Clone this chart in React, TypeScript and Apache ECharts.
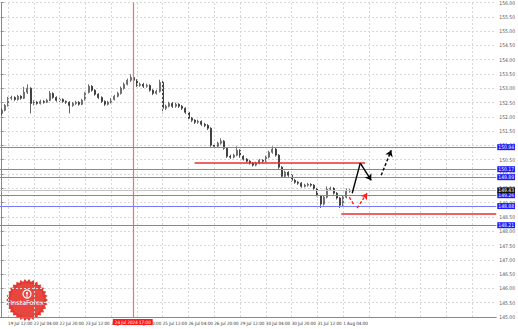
import React, { useEffect, useRef } from "react";
import * as echarts from "echarts";

// 2-hour candles: [open, close, low, high]
const candles: number[][] = [
  [152.12, 152.23, 152.05, 152.30], [152.23, 152.40, 152.19, 152.45], [152.40, 152.65, 152.36, 152.70],
  [152.65, 152.68, 152.58, 152.74], [152.68, 152.61, 152.55, 152.72], [152.61, 152.72, 152.57, 152.77],
  [152.72, 152.65, 152.60, 152.76], [152.65, 152.86, 152.62, 153.05], [152.86, 153.00, 152.80, 153.14],
  [153.00, 152.47, 152.12, 153.04], [152.47, 152.51, 152.40, 152.58], [152.51, 152.47, 152.42, 152.56],
  [152.47, 152.54, 152.43, 152.60], [152.54, 152.51, 152.46, 152.59], [152.51, 152.58, 152.48, 152.63],
  [152.58, 152.82, 152.55, 152.90], [152.82, 152.68, 152.63, 152.86], [152.68, 152.58, 152.53, 152.72],
  [152.58, 152.61, 152.52, 152.67], [152.61, 152.54, 152.49, 152.65], [152.54, 152.51, 152.45, 152.58],
  [152.51, 152.40, 152.12, 152.55], [152.40, 152.47, 152.35, 152.52], [152.47, 152.51, 152.42, 152.56],
  [152.51, 152.44, 152.39, 152.55], [152.44, 152.58, 152.41, 152.63], [152.58, 152.86, 152.55, 152.92],
  [152.86, 153.07, 152.82, 153.14], [153.07, 152.93, 152.88, 153.11], [152.93, 152.79, 152.74, 152.97],
  [152.79, 152.68, 152.62, 152.83], [152.68, 152.54, 152.49, 152.72], [152.54, 152.44, 152.38, 152.58],
  [152.44, 152.51, 152.40, 152.56], [152.51, 152.61, 152.47, 152.66], [152.61, 152.72, 152.57, 152.77],
  [152.72, 152.82, 152.68, 152.88], [152.82, 153.00, 152.78, 153.06], [153.00, 153.14, 152.95, 153.20],
  [153.14, 153.28, 153.10, 153.34], [153.28, 153.38, 153.22, 153.49], [153.38, 153.28, 153.22, 153.44],
  [153.28, 153.10, 153.04, 153.32], [153.10, 153.14, 153.05, 153.20], [153.14, 153.07, 153.01, 153.19],
  [153.07, 153.10, 153.02, 153.16], [153.10, 152.93, 152.88, 153.14], [152.93, 152.82, 152.76, 152.97],
  [152.82, 152.89, 152.78, 152.95], [152.89, 153.21, 152.85, 153.30], [153.21, 152.30, 152.12, 153.26],
  [152.30, 152.37, 152.24, 152.43], [152.37, 152.47, 152.33, 152.53], [152.47, 152.37, 152.31, 152.52],
  [152.37, 152.44, 152.32, 152.50], [152.44, 152.37, 152.31, 152.48], [152.37, 152.30, 152.24, 152.42],
  [152.30, 152.16, 152.10, 152.34], [152.16, 151.95, 151.90, 152.20], [151.95, 151.88, 151.82, 152.00],
  [151.88, 151.81, 151.75, 151.92], [151.81, 151.84, 151.76, 151.90], [151.84, 151.74, 151.68, 151.88],
  [151.74, 151.70, 151.64, 151.79], [151.70, 151.60, 151.54, 151.75], [151.60, 151.01, 150.95, 151.64],
  [151.01, 150.97, 150.91, 151.07], [150.97, 151.08, 150.93, 151.13], [151.08, 151.15, 151.03, 151.25],
  [151.15, 150.90, 150.85, 151.19], [150.90, 150.62, 150.56, 150.94], [150.62, 150.59, 150.53, 150.68],
  [150.59, 150.66, 150.55, 150.71], [150.66, 150.83, 150.62, 150.97], [150.83, 150.62, 150.57, 150.87],
  [150.62, 150.52, 150.47, 150.66], [150.52, 150.45, 150.40, 150.56], [150.45, 150.38, 150.33, 150.49],
  [150.38, 150.31, 150.26, 150.42], [150.31, 150.38, 150.27, 150.43], [150.38, 150.48, 150.34, 150.53],
  [150.48, 150.45, 150.39, 150.52], [150.45, 150.59, 150.41, 150.64], [150.59, 150.76, 150.55, 150.82],
  [150.76, 150.87, 150.71, 150.97], [150.87, 150.66, 150.61, 150.91], [150.66, 150.24, 150.18, 150.70],
  [150.24, 149.92, 149.86, 150.28], [149.92, 150.06, 149.88, 150.12], [150.06, 149.96, 149.90, 150.10],
  [149.96, 149.78, 149.73, 150.00], [149.78, 149.71, 149.66, 149.83], [149.71, 149.68, 149.62, 149.76],
  [149.68, 149.57, 149.52, 149.72], [149.57, 149.61, 149.53, 149.66], [149.61, 149.64, 149.56, 149.69],
  [149.64, 149.61, 149.55, 149.68], [149.61, 149.50, 149.45, 149.65], [149.50, 149.23, 149.18, 149.54],
  [149.23, 148.95, 148.81, 149.27], [148.95, 149.19, 148.90, 149.24], [149.19, 149.47, 149.15, 149.57],
  [149.47, 149.50, 149.42, 149.56], [149.50, 149.33, 149.28, 149.54], [149.33, 149.16, 149.11, 149.37],
  [149.16, 148.91, 148.81, 149.20], [148.91, 149.19, 148.87, 149.24], [149.19, 149.40, 149.15, 149.50],
  [149.40, 149.43, 149.35, 149.48],
];

const totalBars = 154;
const labelEvery = 8;
const labelOffset = 2;
const xLabels = [
  "19 Jul 12:00", "22 Jul 04:00", "22 Jul 20:00", "23 Jul 12:00", "24 Jul 04:00", "24 Jul 20:00",
  "25 Jul 12:00", "26 Jul 04:00", "26 Jul 20:00", "29 Jul 12:00", "30 Jul 04:00", "30 Jul 20:00",
  "31 Jul 12:00", "1 Aug 04:00",
];
const gridXs = [2, 10, 18, 26, 34, 42, 50, 58, 66, 74, 82, 90, 98, 106, 114, 122, 130, 138, 146];

const yMin = 145;
const yMax = 156;
const yStep = 0.5;

const blueLevels = [150.94, 150.17, 149.89, 149.26, 148.88, 148.21];
const currentPrice = 149.43;
// red horizontal segments: [xStart, xEnd, price]
const redSegments = [
  [59.9, 112.8, 150.41],
  [105.4, 153.5, 148.6],
];
const markerX = 40.7;
const markerLabel = "24 Jul 2024 17:00";

// projection arrows: [x1, y1, x2, y2, arrow(1/0), dashed(1/0)]
const blackArrows = [
  [108.8, 149.33, 111.3, 150.38, 0, 0],
  [111.3, 150.38, 114.7, 149.78, 1, 0],
  [117.8, 149.96, 120.9, 150.83, 1, 1],
];
const redArrows = [
  [107.9, 149.19, 109.4, 148.91, 0, 1],
  [110.3, 148.81, 113.4, 149.33, 1, 1],
];

const FONT = "DejaVu Sans";
const CFONT = "'DejaVu Sans Condensed', 'Liberation Sans Narrow', 'DejaVu Sans'";

function arrowItems(list: number[][], color: string) {
  return list.map((a) => [
    { coord: [a[0], a[1]], symbol: "none" },
    {
      coord: [a[2], a[3]],
      symbol: a[4] ? "arrow" : "none",
      symbolSize: 6,
      lineStyle: { color, width: 1.4, type: a[5] ? [3, 2] : "solid" },
    },
  ]);
}

export default function App() {
  const ref = useRef<HTMLDivElement>(null);
  useEffect(() => {
    if (!ref.current) return;
    const chart = echarts.init(ref.current, undefined, { renderer: "svg" });
    const cats = Array.from({ length: totalBars }, (_, i) => String(i));
    const isLabel = (i: number) =>
      i >= labelOffset && (i - labelOffset) % labelEvery === 0 && (i - labelOffset) / labelEvery < xLabels.length;
    const xEndL = -0.5;
    const xEndR = totalBars - 0.5;

    // logo teeth
    const teeth = 30;
    const pts: number[][] = [];
    for (let k = 0; k < teeth * 2; k++) {
      const r = k % 2 ? 18.5 : 21;
      const ang = (k * Math.PI) / teeth;
      pts.push([r * Math.cos(ang), r * Math.sin(ang)]);
    }

    const boxLabel = (text: string, bg: string) => ({
      show: true,
      position: "end",
      distance: 1,
      formatter: text,
      color: "#ffffff",
      backgroundColor: bg,
      fontSize: 5,
      fontFamily: CFONT,
      padding: [1, 1, 0, 1],
    });

    const levelLine = (v: number, color: string, width: number, bg: string) => [
      { coord: [xEndL, v] },
      { coord: [xEndR, v], lineStyle: { color, width, type: "solid" }, label: boxLabel(v.toFixed(2), bg) },
    ];

    chart.setOption({
      animation: false,
      backgroundColor: "#ffffff",
      grid: { left: 0, right: 21, top: 2, bottom: 12 },
      xAxis: [
        {
          type: "category",
          data: cats,
          boundaryGap: true,
          axisLine: { lineStyle: { color: "#888" } },
          axisTick: { interval: (i: number) => isLabel(i), alignWithLabel: true, length: 2, lineStyle: { color: "#888" } },
          axisLabel: {
            interval: (i: number) => isLabel(i),
            formatter: (_v: string, i: number) => xLabels[(i - labelOffset) / labelEvery] || "",
            fontSize: 4.5,
            color: "#333",
            align: "left",
            margin: 4,
            fontFamily: CFONT,
          },
          splitLine: { show: false },
        },
        { type: "value", min: xEndL, max: xEndR, show: false },
      ],
      yAxis: {
        type: "value",
        position: "right",
        min: yMin,
        max: yMax,
        interval: yStep,
        axisLine: { show: true, lineStyle: { color: "#888" } },
        axisTick: { show: true, length: 2, lineStyle: { color: "#888" } },
        axisLabel: { fontSize: 5, margin: 3, color: "#555", fontFamily: CFONT, formatter: (v: number) => v.toFixed(2) },
        splitLine: { show: true, lineStyle: { color: "#d8d8d8", type: [2, 2], width: 1 } },
      },
      series: [
        {
          type: "line",
          xAxisIndex: 1,
          data: [],
          symbol: "none",
          markLine: {
            silent: true,
            symbol: "none",
            label: { show: false },
            data: [
              ...gridXs.map((x) => ({ xAxis: x, lineStyle: { color: "#d8d8d8", type: [2, 2], width: 1 } })),
              {
                xAxis: markerX,
                lineStyle: { color: "#ff6a6a", width: 1.2, type: "solid" },
                label: {
                  show: true,
                  position: "start",
                  distance: 2,
                  formatter: markerLabel,
                  color: "#ffffff",
                  backgroundColor: "#ff1a1a",
                  fontSize: 4.5,
                  fontFamily: CFONT,
                  padding: [1, 2, 0, 2],
                },
              },
              ...blueLevels.map((v) => levelLine(v, "#7a7aff", 1.2, "#1a1aff")),
              levelLine(currentPrice, "#c4c4c4", 1, "#111111"),
            ],
          },
          z: 1,
        },
        {
          type: "candlestick",
          data: candles,
          barWidth: 1.5,
          itemStyle: { color: "#ffffff", color0: "#222222", borderColor: "#333333", borderColor0: "#222222", borderWidth: 0.7 },
          z: 3,
        },
        {
          type: "line",
          xAxisIndex: 1,
          data: [],
          symbol: "none",
          markLine: {
            silent: true,
            symbol: "none",
            label: { show: false },
            data: [
              ...redSegments.map((s) => [
                { coord: [s[0], s[2]] },
                { coord: [s[1], s[2]], lineStyle: { color: "#e83030", width: 1.6, type: "solid" } },
              ]),
              ...arrowItems(blackArrows, "#000000"),
              ...arrowItems(redArrows, "#ff2020"),
            ],
          },
          z: 5,
        },
      ],
      graphic: [
        {
          type: "group",
          x: 27,
          y: 300,
          z: 100,
          children: [
            { type: "polygon", shape: { points: pts }, style: { fill: "#e23b34" } },
            { type: "circle", shape: { cx: 0, cy: 0, r: 16.5 }, style: { fill: "#e8473f" } },
            { type: "circle", shape: { cx: 0, cy: -6, r: 4 }, style: { fill: "none", stroke: "#ffffff", lineWidth: 1.2 } },
            { type: "circle", shape: { cx: 0, cy: -7, r: 1.1 }, style: { fill: "#ffffff" } },
            { type: "line", shape: { x1: 0, y1: -6, x2: 0, y2: -3 }, style: { stroke: "#ffffff", lineWidth: 1 } },
            {
              type: "text",
              x: 0,
              y: 3,
              style: { text: "InstaForex", fill: "#ffffff", fontSize: 6.5, fontFamily: FONT, align: "center", verticalAlign: "middle" },
            },
          ],
        },
      ],
    });
    return () => chart.dispose();
  }, []);
  return <div ref={ref} style={{ position: "absolute", left: 0, top: 0, width: 518, height: 329 }} />;
}
